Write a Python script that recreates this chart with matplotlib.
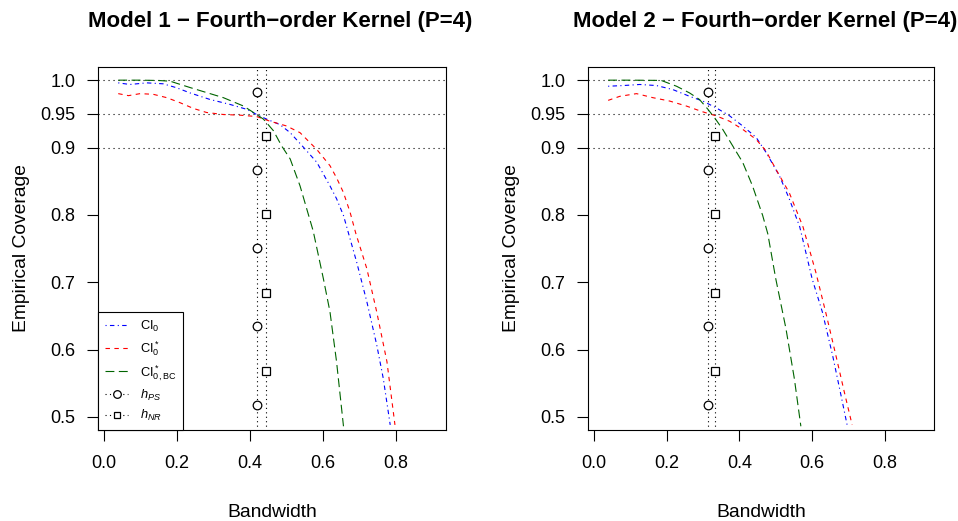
import matplotlib
matplotlib.use("Agg")
import matplotlib.pyplot as plt
from matplotlib.lines import Line2D

plt.rcParams['font.family'] = ['Liberation Sans', 'DejaVu Sans']
plt.rcParams['mathtext.fontset'] = 'custom'
plt.rcParams['mathtext.rm'] = 'Liberation Sans'
plt.rcParams['mathtext.it'] = 'Liberation Sans:italic'
plt.rcParams['mathtext.bf'] = 'Liberation Sans:bold'

# ---------------- data ----------------
titles = ["Model 1 \u2212 Fourth\u2212order Kernel (P=4)",
          "Model 2 \u2212 Fourth\u2212order Kernel (P=4)"]

# Model 1
m1_ci0_x = [0.039, 0.071, 0.117, 0.162, 0.199, 0.236, 0.290, 0.345, 0.391, 0.418, 0.446, 0.482,
            0.510, 0.547, 0.583, 0.619, 0.637, 0.656, 0.692, 0.720, 0.747, 0.765, 0.784]
m1_ci0_y = [0.996, 0.9936, 0.996, 0.9946, 0.9887, 0.981, 0.9714, 0.964, 0.9567, 0.949, 0.942, 0.934,
            0.922, 0.900, 0.878, 0.843, 0.824, 0.799, 0.730, 0.671, 0.607, 0.557, 0.488]
m1_cis_x = [0.039, 0.067, 0.099, 0.135, 0.172, 0.208, 0.245, 0.281, 0.327, 0.373, 0.418, 0.455,
            0.500, 0.537, 0.583, 0.619, 0.637, 0.656, 0.674, 0.690, 0.720, 0.747, 0.775, 0.797]
m1_cis_y = [0.980, 0.977, 0.980, 0.979, 0.974, 0.9666, 0.958, 0.952, 0.949, 0.948, 0.946, 0.939,
            0.932, 0.922, 0.897, 0.873, 0.855, 0.833, 0.804, 0.772, 0.720, 0.656, 0.582, 0.488]
m1_cbc_x = [0.039, 0.100, 0.150, 0.181, 0.236, 0.327, 0.382, 0.418, 0.437, 0.464, 0.487, 0.510,
            0.537, 0.573, 0.601, 0.619, 0.637, 0.656]
m1_cbc_y = [1.000, 1.000, 0.9995, 0.9985, 0.989, 0.974, 0.9616, 0.949, 0.942, 0.925, 0.902, 0.883,
            0.843, 0.776, 0.705, 0.656, 0.582, 0.486]

# Model 2
m2_ci0_x = [0.039, 0.080, 0.126, 0.172, 0.217, 0.263, 0.299, 0.336, 0.373, 0.409, 0.446, 0.473,
            0.510, 0.537, 0.566, 0.600, 0.628, 0.656, 0.679, 0.697]
m2_ci0_y = [0.991, 0.992, 0.9936, 0.992, 0.986, 0.976, 0.969, 0.959, 0.947, 0.932, 0.915, 0.893,
            0.858, 0.824, 0.782, 0.705, 0.656, 0.592, 0.533, 0.486]
m2_cis_x = [0.039, 0.071, 0.117, 0.162, 0.208, 0.254, 0.299, 0.336, 0.373, 0.409, 0.446, 0.473,
            0.500, 0.537, 0.575, 0.610, 0.637, 0.665, 0.688, 0.710]
m2_cis_y = [0.970, 0.976, 0.980, 0.974, 0.969, 0.9616, 0.953, 0.947, 0.939, 0.927, 0.912, 0.895,
            0.868, 0.833, 0.782, 0.715, 0.656, 0.592, 0.538, 0.488]
m2_cbc_x = [0.039, 0.100, 0.150, 0.185, 0.227, 0.263, 0.290, 0.313, 0.332, 0.354, 0.382, 0.409,
            0.436, 0.464, 0.478, 0.500, 0.528, 0.551, 0.569]
m2_cbc_y = [1.000, 1.000, 0.9998, 0.9996, 0.991, 0.981, 0.9714, 0.957, 0.944, 0.927, 0.902, 0.878,
            0.843, 0.799, 0.772, 0.705, 0.631, 0.557, 0.486]

# selected bandwidths
h_ps = [0.418, 0.313]
h_nr = [0.443, 0.333]
circle_y = [0.983, 0.867, 0.751, 0.635, 0.518]
square_y = [0.917, 0.801, 0.684, 0.568]

xticks = [0.0, 0.2, 0.4, 0.6, 0.8]
xticklabels = ["0.0", "0.2", "0.4", "0.6", "0.8"]
yticks = [0.5, 0.6, 0.7, 0.8, 0.9, 0.95, 1.0]
yticklabels = ["0.5", "0.6", "0.7", "0.8", "0.9", "0.95", "1.0"]
ref_levels = [0.9, 0.95, 1.0]

legend_labels = [r"CI$_0$", r"CI$_0^*$", r"CI$_{0,\mathrm{BC}}^*$", r"$h_{PS}$", r"$h_{NR}$"]

series = [
    [(m1_ci0_x, m1_ci0_y), (m1_cis_x, m1_cis_y), (m1_cbc_x, m1_cbc_y)],
    [(m2_ci0_x, m2_ci0_y), (m2_cis_x, m2_cis_y), (m2_cbc_x, m2_cbc_y)],
]

# ---------------- styling ----------------
LW = 0.8
styles = [
    dict(color="blue", dashes=(1, 3, 4, 3)),
    dict(color="red", dashes=(4, 4)),
    dict(color="darkgreen", dashes=(8, 4)),
]
FS_TICK = 13.0
FS_LAB = 13.9
FS_TITLE = 16.0
title_x = [0.523, 0.510]

W, H = 958, 521
fig = plt.figure(figsize=(W / 100, H / 100), dpi=100)
bottom = 1 - 430.3 / H
height = (430.3 - 66.7) / H
ax1 = fig.add_axes([98.3 / W, bottom, 347.4 / W, height])
ax2 = fig.add_axes([588.3 / W, bottom, 346.0 / W, height])

for k, ax in enumerate([ax1, ax2]):
    ax.set_xlim(-0.0156, 0.936)
    ax.set_ylim(0.48, 1.02)
    for lev in ref_levels:
        ax.axhline(lev, color="black", lw=LW, dashes=(1, 3.5), zorder=1)
    for (x, y), st in zip(series[k], styles):
        ax.plot(x, y, color=st["color"], lw=LW, dashes=st["dashes"], zorder=3)
    # vertical bandwidth lines
    ax.plot([h_ps[k], h_ps[k]], [0.40, 1.10], color="black", lw=LW, dashes=(1, 3), zorder=2)
    ax.plot([h_nr[k], h_nr[k]], [0.40, 1.10], color="black", lw=LW, dashes=(1, 3), zorder=2)
    ax.plot([h_ps[k]] * len(circle_y), circle_y, ls="none", marker="o", ms=6.2,
            mfc="white", mec="black", mew=0.9, zorder=4)
    ax.plot([h_nr[k]] * len(square_y), square_y, ls="none", marker="s", ms=5.2,
            mfc="white", mec="black", mew=0.9, zorder=4)

    ax.set_xticks(xticks)
    ax.set_xticklabels(xticklabels, fontsize=FS_TICK)
    ax.set_yticks(yticks)
    ax.set_yticklabels(yticklabels, fontsize=FS_TICK)
    ax.tick_params(axis="x", length=8, width=0.8, pad=10.0, direction="out")
    ax.tick_params(axis="y", length=8, width=0.8, pad=8.5, direction="out")
    for sp in ax.spines.values():
        sp.set_linewidth(0.8)
    ax.set_xlabel("Bandwidth", fontsize=FS_LAB)
    ax.xaxis.set_label_coords(0.5, -0.204)
    ax.xaxis.label.set_va("top")
    ax.set_ylabel("Empirical Coverage", fontsize=FS_LAB)
    ax.yaxis.set_label_coords(-0.198, 0.5)
    ax.text(title_x[k], 1.0 + 39.7 / 363.6, titles[k], transform=ax.transAxes,
            ha="center", va="baseline", fontsize=FS_TITLE, fontweight="bold")

handles = [
    Line2D([], [], color="blue", lw=LW, dashes=(1, 3, 4, 3)),
    Line2D([], [], color="red", lw=LW, dashes=(4, 4)),
    Line2D([], [], color="darkgreen", lw=LW, dashes=(8, 4)),
    Line2D([], [], color="black", lw=LW, dashes=(1, 3), marker="o", ms=5.5,
           mfc="white", mec="black", mew=0.9),
    Line2D([], [], color="black", lw=LW, dashes=(1, 3), marker="s", ms=4.8,
           mfc="white", mec="black", mew=0.9),
]
leg = ax1.legend(handles, legend_labels, loc="lower left", borderaxespad=0,
                 fontsize=9.3, fancybox=False, edgecolor="black", framealpha=1,
                 handlelength=1.75, handletextpad=0.9, borderpad=0.55,
                 labelspacing=0.40, numpoints=1)
leg.get_frame().set_linewidth(0.8)
leg.set_zorder(10)

fig.savefig("out.png", dpi=100)
